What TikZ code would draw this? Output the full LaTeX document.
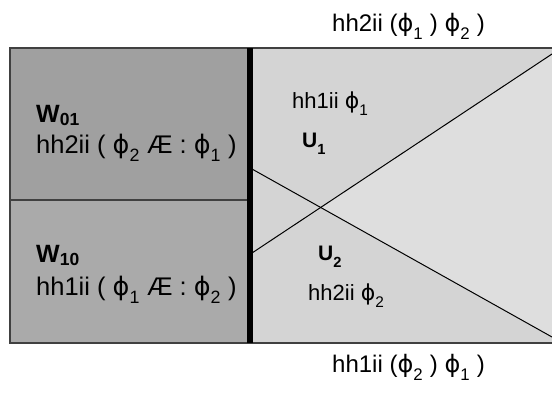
\documentclass[tikz,border=0pt]{standalone}
\usepackage{fontspec}
\setmainfont{Liberation Sans}
\newfontfamily\greekfont{DejaVu Sans}
\newcommand{\vphi}{{\greekfont ϕ}}
\newcommand{\sub}[1]{\raisebox{-0.35ex}{\textsubscript{#1}}}

\definecolor{wtop}{HTML}{A0A0A0}
\definecolor{wbot}{HTML}{AAAAAA}
\definecolor{upanel}{HTML}{D4D4D4}
\definecolor{uwedge}{HTML}{DEDEDE}
\definecolor{frame}{HTML}{404040}

\tikzset{
  lbl/.style={anchor=base west, inner sep=0pt},
  celltext/.style={lbl, font=\fontsize{25.5}{30}\selectfont},
  cellname/.style={lbl, font=\fontsize{25}{30}\selectfont\bfseries},
  paneltext/.style={lbl, font=\fontsize{22}{26}\selectfont},
  panelname/.style={lbl, font=\fontsize{21}{25}\selectfont\bfseries},
  outtext/.style={lbl, font=\fontsize{24}{28}\selectfont},
  frameline/.style={draw=frame, line width=2pt},
  cut/.style={draw=black, line width=1pt}
}

\begin{document}
\begin{tikzpicture}[x=1pt, y=-1pt]
  \useasboundingbox (0,0) rectangle (552,392);

  % regions
  \fill[wtop] (10,48) rectangle (250,199.5);
  \fill[wbot] (10,199.5) rectangle (250,343);
  \fill[upanel] (250,48) rectangle (552,343);

  \coordinate (a1) at (252,253);
  \coordinate (a2) at (552,54);
  \coordinate (b1) at (252,169);
  \coordinate (b2) at (552,337);
  \coordinate (x) at (intersection of a1--a2 and b1--b2);
  \fill[uwedge] (x) -- (a2) -- (b2) -- cycle;

  \draw[cut] (a1) -- (a2);
  \draw[cut] (b1) -- (b2);

  % frame and dividers
  \draw[frameline] (552,48) -- (10,48) -- (10,343) -- (552,343);
  \draw[frameline] (10,199.5) -- (250,199.5);
  \draw[line width=6pt] (250,48) -- (250,343);

  % labels
  \node[cellname] (w01) at (36,122) {W\textsubscript{01}};
  \node[celltext] (p01) at (36,153) {hh2ii ( \vphi\sub{2} Æ : \vphi\sub{1} )};
  \node[cellname] (w10) at (36,262) {W\textsubscript{10}};
  \node[celltext] (p10) at (36,295) {hh1ii ( \vphi\sub{1} Æ : \vphi\sub{2} )};

  \node[paneltext] (q1) at (292,108) {hh1ii \vphi\sub{1}};
  \node[panelname] (u1) at (302,147) {U\sub{1}};
  \node[panelname] (u2) at (318,260) {U\sub{2}};
  \node[paneltext] (q2) at (308,300) {hh2ii \vphi\sub{2}};

  \node[outtext] (top) at (332,31) {hh2ii (\vphi\sub{1} ) \vphi\sub{2} )};
  \node[outtext] (bot) at (332,372) {hh1ii (\vphi\sub{2} ) \vphi\sub{1} )};
\end{tikzpicture}
\end{document}
